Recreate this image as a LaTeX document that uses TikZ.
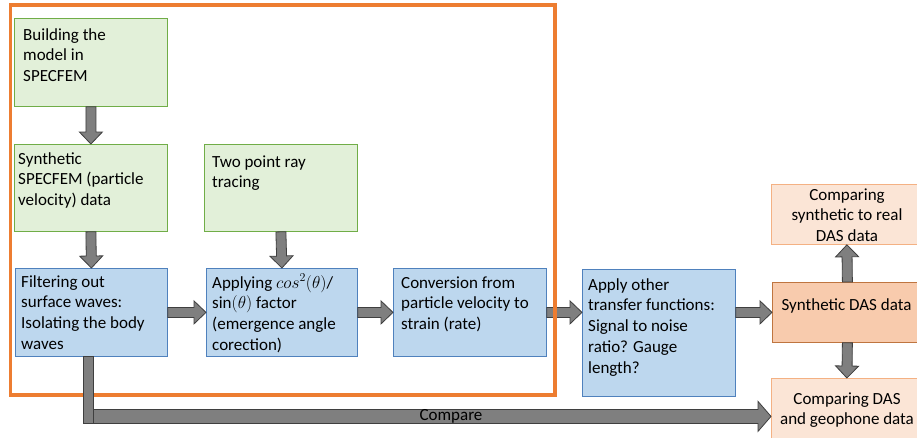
\documentclass[tikz,border=0pt]{standalone}
\usepackage{fontspec}
\setmainfont{Carlito}
\usetikzlibrary{calc}
\definecolor{gfill}{HTML}{E2F0D9}
\definecolor{gedge}{HTML}{70AD47}
\definecolor{bfill}{HTML}{BDD7EE}
\definecolor{bedge}{HTML}{4F81BD}
\definecolor{ofill}{HTML}{F8CBAD}
\definecolor{oedge}{HTML}{BF7540}
\definecolor{lfill}{HTML}{FBE5D6}
\definecolor{ledge}{HTML}{F4B183}
\definecolor{frameor}{HTML}{ED7D31}
\definecolor{agray}{HTML}{7F7F7F}
\definecolor{aedge}{HTML}{3F3F3F}
\newcommand\myfs{\fontsize{17pt}{20.8pt}\selectfont}
\tikzset{
  boxbase/.style={rectangle, inner sep=0pt, line width=0.8pt, anchor=north west},
  gbox/.style={boxbase, draw=gedge, fill=gfill},
  bbox/.style={boxbase, draw=bedge, fill=bfill},
  obox/.style={boxbase, draw=oedge, fill=ofill},
  lbox/.style={boxbase, draw=ledge, fill=lfill},
  txt/.style={inner sep=0pt, anchor=base west, font=\myfs},
  ctxt/.style={inner sep=0pt, anchor=base, font=\myfs},
  barrow/.style n args={3}{draw=aedge, fill=agray, line width=0.8pt,
    to path={let \p1=(\tikztostart), \p2=(\tikztotarget),
      \n1={veclen(\x2-\x1,\y2-\y1)}, \n2={(\x2-\x1)/\n1}, \n3={(\y2-\y1)/\n1} in
      ({\x1-\n3*#1},{\y1+\n2*#1})
      -- ({\x2-\n2*#3-\n3*#1},{\y2-\n3*#3+\n2*#1})
      -- ({\x2-\n2*#3-\n3*#2},{\y2-\n3*#3+\n2*#2})
      -- (\x2,\y2)
      -- ({\x2-\n2*#3+\n3*#2},{\y2-\n3*#3-\n2*#2})
      -- ({\x2-\n2*#3+\n3*#1},{\y2-\n3*#3-\n2*#1})
      -- ({\x1+\n3*#1},{\y1-\n2*#1}) -- cycle}},
  arr/.style={barrow={5pt}{11.5pt}{12pt}},
  barstyle/.style={draw=aedge, fill=agray, line width=0.8pt}
}
\begin{document}
\begin{tikzpicture}[x=1pt,y=-1pt]
\useasboundingbox (0,0) rectangle (917,437);

% boxes
\node[gbox, minimum width=153pt, minimum height=88pt] (b1) at (14,18) {};
\node[gbox, minimum width=153pt, minimum height=87pt] (b2) at (14,144) {};
\node[gbox, minimum width=153pt, minimum height=87pt] (ray) at (204,144) {};
\node[bbox, minimum width=152pt, minimum height=88pt] (filt) at (15,268) {};
\node[bbox, minimum width=151pt, minimum height=88pt] (appl) at (206,268) {};
\node[bbox, minimum width=153pt, minimum height=88pt] (conv) at (393,268) {};
\node[bbox, minimum width=153pt, minimum height=127pt] (other) at (582,269) {};
\node[obox, minimum width=150pt, minimum height=60pt] (das) at (772,282) {};
\node[lbox, minimum width=151pt, minimum height=60pt] (cmp1) at (771,184) {};
\node[lbox, minimum width=151pt, minimum height=76pt] (cmp2) at (771,378) {};

% texts
\node[txt] (t1) at (23,40) {\parbox[t]{220pt}{\raggedright Building the\\model in\\SPECFEM}};
\node[txt] (t2) at (18,164) {\parbox[t]{220pt}{\raggedright Synthetic\\SPECFEM (particle\\velocity) data}};
\node[txt] (t3) at (212,167) {\parbox[t]{220pt}{\raggedright Two point ray\\tracing}};
\node[txt] (t4) at (21,287) {\parbox[t]{220pt}{\raggedright Filtering out\\surface waves:\\Isolating the body\\waves}};
\node[txt] (t5) at (212,288) {\parbox[t]{220pt}{\raggedright Applying $cos^2(\theta)$/\\$\sin(\theta)$ factor\\(emergence angle\\corection)}};
\node[txt] (t6) at (401,288) {\parbox[t]{220pt}{\raggedright Conversion from\\particle velocity to\\strain (rate)}};
\node[txt] (t7) at (588,290) {\parbox[t]{220pt}{\raggedright Apply other\\transfer functions:\\Signal to noise\\ratio? Gauge\\length?}};
\node[ctxt] (t8) at (846.5,310) {Synthetic DAS data};
\node[ctxt] (t9) at (847,200) {\parbox[t]{200pt}{\centering Comparing\\synthetic to real\\DAS data}};
\node[ctxt] (t10) at (847,404) {\parbox[t]{200pt}{\centering Comparing DAS\\and geophone data}};

% block arrows
\coordinate (c1) at (conv.east -| other.west);
\coordinate (c2) at (other.east |- das.west);
\draw[arr] (b1.south) to (b2.north);
\draw[arr] (b2.south) to (filt.north);
\draw[arr] (ray.south) to (appl.north);
\draw[arr] (filt.east) to (appl.west);
\draw[arr] (appl.east) to (conv.west);
\draw[arr] (conv.east) to (c1);
\draw[arr] (c2) to (das.west);
\draw[arr] (das.north) to (cmp1.south);
\draw[arr] (das.south) to (cmp2.north);

% orange frame
\draw[frameor, line width=3.3pt] (10.5,5) rectangle (555,395);

% compare arrow
\coordinate (cs) at ($(filt.south |- cmp2.west)+(-8pt,0pt)$);
\draw[barrow={7pt}{15pt}{13pt}] (cs) to (cmp2.west);
\draw[barstyle] ($(filt.south)+(-8pt,0pt)$) rectangle ($(filt.south |- cmp2.west)+(2pt,-7pt)$);
\node[font=\myfs, inner sep=0pt] (cmplbl) at (451,416) {Compare};
\end{tikzpicture}
\end{document}
